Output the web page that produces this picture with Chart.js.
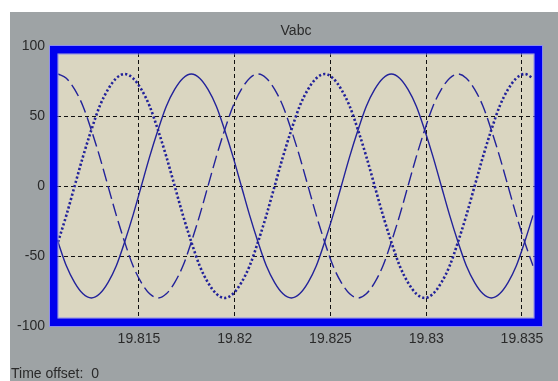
<!DOCTYPE html>
<html>
<head>
<meta charset="utf-8">
<script src="https://cdn.jsdelivr.net/npm/chart.js@4"></script>
<style>
  html, body { margin: 0; padding: 0; background: #ffffff; }
  #panel { position: absolute; left: 10px; top: 12px; width: 548px; height: 369px; background: #9ea3a5; }
  #chart { position: absolute; left: 0; top: 0; }
  #offset { position: absolute; left: 11px; top: 365px; font: 14px "Liberation Sans", Arial, sans-serif; color: #2a2a2a; white-space: pre; }
</style>
</head>
<body>
<div id="panel"></div>
<canvas id="chart" width="558" height="381"></canvas>
<div id="offset">Time offset:  0</div>
<script>
// Scope trace "Vabc" - three phases

const times = [
  19.810770, 19.811205, 19.811640, 19.812075, 19.812511, 19.812946, 19.813381, 19.813816,
  19.814251, 19.814686, 19.815122, 19.815557, 19.815992, 19.816427, 19.816862, 19.817297,
  19.817733, 19.818168, 19.818603, 19.819038, 19.819473, 19.819908, 19.820344, 19.820779,
  19.821214, 19.821649, 19.822084, 19.822519, 19.822954, 19.823390, 19.823825, 19.824260,
  19.824695, 19.825130, 19.825565, 19.826001, 19.826436, 19.826871, 19.827306, 19.827741,
  19.828176, 19.828612, 19.829047, 19.829482, 19.829917, 19.830352, 19.830787, 19.831223,
  19.831658, 19.832093, 19.832528, 19.832963, 19.833398, 19.833833, 19.834269, 19.834704,
  19.835139, 19.835574
];

// solid trace
const phaseA = [
  -40, -57, -69, -77, -80, -77, -69, -57, -40, -21, 0, 21, 40, 57, 69, 77,
  80, 77, 69, 57, 40, 21, 0, -21, -40, -57, -69, -77, -80, -77, -69, -57,
  -40, -21, 0, 21, 40, 57, 69, 77,
  80, 77, 69, 57, 40, 21, 0, -21, -40, -57, -69, -77, -80, -77, -69, -57,
  -40, -21
];

// dashed trace
const phaseB = [
  80, 77, 69, 57, 40, 21, 0, -21, -40, -57, -69, -77, -80, -77, -69, -57,
  -40, -21, 0, 21, 40, 57, 69, 77,
  80, 77, 69, 57, 40, 21, 0, -21, -40, -57, -69, -77, -80, -77, -69, -57,
  -40, -21, 0, 21, 40, 57, 69, 77,
  80, 77, 69, 57, 40, 21, 0, -21, -40, -57
];

// dotted trace
const phaseC = [
  -40, -21, 0, 21, 40, 57, 69, 77,
  80, 77, 69, 57, 40, 21, 0, -21, -40, -57, -69, -77, -80, -77, -69, -57,
  -40, -21, 0, 21, 40, 57, 69, 77,
  80, 77, 69, 57, 40, 21, 0, -21, -40, -57, -69, -77, -80, -77, -69, -57,
  -40, -21, 0, 21, 40, 57, 69, 77,
  80, 77
];

const xTicks = [19.815, 19.82, 19.825, 19.83, 19.835];
const xTickLabels = ['19.815', '19.82', '19.825', '19.83', '19.835'];
const yTicks = [-100, -50, 0, 50, 100];
const yTickLabels = ['-100', '-50', '0', '50', '100'];
const title = 'Vabc';

const traceColor = '#22229a';
const textColor = '#2a2a2a';
const font = { family: '"Liberation Sans", Arial, sans-serif', size: 14 };

// plot background + thick blue frame like the Simulink scope
const scopeFrame = {
  id: 'scopeFrame',
  beforeDraw(chart) {
    const a = chart.chartArea, ctx = chart.ctx;
    ctx.save();
    ctx.fillStyle = '#dad6c1';
    ctx.fillRect(a.left, a.top, a.right - a.left, a.bottom - a.top);
    ctx.restore();
  },
  afterDatasetsDraw(chart) {
    const a = chart.chartArea, ctx = chart.ctx;
    const w = 7.5;
    ctx.save();
    ctx.strokeStyle = '#8c8cf0';
    ctx.lineWidth = 1;
    ctx.strokeRect(a.left - 0.5, a.top - 0.5, a.right - a.left + 1, a.bottom - a.top + 1);
    ctx.strokeRect(a.left + w + 0.5, a.top + w + 0.5, a.right - a.left - 2 * w - 1, a.bottom - a.top - 2 * w - 1);
    ctx.strokeStyle = '#0000ee';
    ctx.lineWidth = w;
    ctx.strokeRect(a.left + w / 2, a.top + w / 2, a.right - a.left - w, a.bottom - a.top - w);
    ctx.restore();
  }
};

function pts(values) {
  return values.map((v, i) => ({ x: times[i], y: v }));
}

const ctx = document.getElementById('chart').getContext('2d');
new Chart(ctx, {
  type: 'line',
  data: {
    datasets: [
      { data: pts(phaseA), borderColor: traceColor, borderWidth: 1.4 },
      { data: pts(phaseB), borderColor: traceColor, borderWidth: 1.4, borderDash: [13, 5] },
      { data: pts(phaseC), borderColor: traceColor, borderWidth: 2.6, borderDash: [2.2, 2.2] }
    ]
  },
  options: {
    responsive: false,
    animation: false,
    devicePixelRatio: 1,
    parsing: false,
    layout: { padding: { left: 0, right: 16, top: 0, bottom: 0 } },
    elements: {
      point: { radius: 0 },
      line: { fill: false, cubicInterpolationMode: 'monotone' }
    },
    plugins: {
      legend: { display: false },
      tooltip: { enabled: false },
      title: {
        display: true,
        text: title,
        fullSize: false,
        color: textColor,
        font: { ...font, weight: 'normal' },
        padding: { top: 23, bottom: 6.2 }
      }
    },
    scales: {
      x: {
        type: 'linear',
        min: 19.8103525,
        max: 19.8360444,
        afterFit: s => { s.height = 55; },
        afterBuildTicks: s => { s.ticks = xTicks.map(v => ({ value: v })); },
        grid: { color: '#111', drawTicks: false, lineWidth: 1 },
        border: { display: false, dash: [4, 3] },
        ticks: {
          color: textColor,
          font: font,
          padding: 5,
          maxRotation: 0,
          autoSkip: false,
          callback: (v) => xTickLabels[xTicks.indexOf(v)]
        }
      },
      y: {
        type: 'linear',
        min: -100,
        max: 100,
        afterFit: s => { s.width = 50; },
        afterBuildTicks: s => { s.ticks = yTicks.map(v => ({ value: v })); },
        grid: { color: '#111', drawTicks: false, lineWidth: 1 },
        border: { display: false, dash: [4, 3] },
        ticks: {
          color: textColor,
          font: font,
          padding: 5,
          autoSkip: false,
          callback: (v) => yTickLabels[yTicks.indexOf(v)]
        }
      }
    }
  },
  plugins: [scopeFrame]
});
</script>
</body>
</html>
